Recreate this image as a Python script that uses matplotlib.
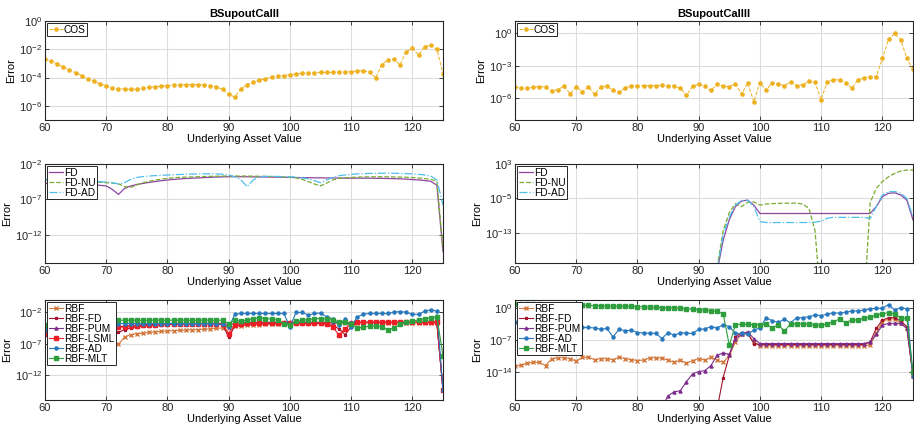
import numpy as np
import matplotlib
matplotlib.use("Agg")
import matplotlib.pyplot as plt
from matplotlib.ticker import NullLocator, FixedLocator

plt.rcParams["font.family"] = ["Liberation Sans", "DejaVu Sans"]
plt.rcParams["mathtext.default"] = "regular"
plt.rcParams["xtick.labelsize"] = 8
plt.rcParams["ytick.labelsize"] = 8

# underlying asset values
asset = list(range(60, 126))
nan = float("nan")

# ---- data (log10 of the error) ----
cos_c1 = [-2.67, -2.86, -3.05, -3.26, -3.47, -3.65, -3.86, -4.07, -4.26, -4.44,
          -4.58, -4.72, -4.79, -4.81, -4.84, -4.81, -4.77, -4.70, -4.65, -4.60,
          -4.56, -4.53, -4.51, -4.51, -4.49, -4.49, -4.51, -4.56, -4.65, -4.84,
          -5.19, -5.37, -4.79, -4.49, -4.33, -4.19, -4.07, -3.98, -3.91, -3.86,
          -3.79, -3.74, -3.70, -3.67, -3.65, -3.63, -3.63, -3.63, -3.60, -3.60,
          -3.58, -3.53, -3.51, -3.60, -4.02, -3.09, -2.74, -2.72, -3.09, -2.16,
          -1.93, -2.40, -1.81, -1.70, -2.00, -3.72]

cos_c2 = [-4.94, -5.06, -5.06, -4.97, -4.91, -4.94, -5.30, -5.18, -4.88, -5.58,
          -4.94, -5.39, -4.91, -5.64, -4.97, -4.88, -5.24, -5.45, -5.00, -4.88,
          -4.82, -4.82, -4.82, -4.82, -4.79, -4.82, -4.88, -5.06, -5.73, -4.88,
          -4.70, -4.88, -5.27, -4.70, -4.85, -4.91, -4.64, -5.61, -4.58, -6.30,
          -4.55, -5.24, -4.58, -4.67, -4.82, -4.48, -4.82, -4.73, -4.42, -4.52,
          -6.12, -4.45, -4.27, -4.30, -4.55, -5.06, -4.30, -4.09, -4.00, -4.00,
          -2.30, -0.55, 0.00, -0.61, -2.30, -3.33]

fd_c1 = [-4.74, -4.75, -4.76, -4.78, -4.80, -4.82, -4.85, -4.90, -4.95, -5.02,
         -5.10, -5.60, -6.30, -5.45, -5.10, -4.90, -4.75, -4.60, -4.48, -4.36,
         -4.26, -4.18, -4.11, -4.05, -4.01, -3.98, -3.92, -3.88, -3.85, -3.82,
         -3.80, -3.80, -3.80, -3.81, -3.82, -3.83, -3.84, -3.85, -3.86, -3.88,
         -3.90, -3.92, -3.93, -3.94, -3.95, -3.96, -3.97, -3.98, -3.99, -4.00,
         -4.00, -4.00, -4.00, -4.01, -4.02, -4.03, -4.05, -4.07, -4.10, -4.14,
         -4.20, -4.26, -4.33, -4.45, -5.00, -14.4]

fdnu_c1 = [-4.26, -4.27, -4.28, -4.29, -4.30, -4.32, -4.36, -4.42, -4.50, -4.57,
           -4.64, -4.70, -4.80, -5.20, -5.30, -4.97, -4.65, -4.45, -4.28, -4.15,
           -4.03, -3.95, -3.89, -3.85, -3.82, -3.80, -3.77, -3.75, -3.73, -3.71,
           -3.70, -3.70, -3.70, -3.71, -3.72, -3.73, -3.75, -3.77, -3.80, -3.84,
           -3.88, -3.95, -4.17, -4.50, -4.83, -5.10, -4.70, -4.25, -4.03, -3.95,
           -3.90, -3.86, -3.83, -3.81, -3.80, -3.80, -3.81, -3.83, -3.85, -3.88,
           -3.92, -3.98, -4.06, -4.17, -4.45, -14.0]

fdad_c1 = [-4.17, -4.18, -4.20, -4.22, -4.24, -4.27, -4.32, -4.38, -4.44, -4.50,
           -4.55, -4.65, -4.83, -4.64, -4.17, -3.90, -3.78, -3.70, -3.64, -3.60,
           -3.56, -3.52, -3.48, -3.45, -3.42, -3.40, -3.39, -3.39, -3.40, -3.45,
           -3.55, -3.80, -4.26, -5.20, -4.26, -3.80, -3.75, -3.75, -3.76, -3.78,
           -3.80, -3.85, -3.95, -4.10, -4.36, -4.64, -4.26, -3.90, -3.65, -3.55,
           -3.46, -3.40, -3.36, -3.33, -3.31, -3.30, -3.30, -3.31, -3.33, -3.36,
           -3.40, -3.46, -3.55, -3.70, -4.26, -7.80]

fd_c2 = [nan] * 33 + [
    -22.0, -14.7, -9.9, -6.9, -5.6, -5.4, -6.55,
    -8.5, -8.5, -8.5, -8.5, -8.5, -8.5, -8.5, -8.5, -8.5, -8.5,
    -8.5, -8.5, -8.5, -8.5, -8.5, -8.5, -8.5, -8.5, -8.5, -6.9,
    -4.6, -3.8, -3.7, -4.2, -5.4, -10.0]

fdnu_c2 = [nan] * 33 + [
    -21.0, -12.5, -8.3, -6.2, -6.9, -5.9, -5.8,
    -6.55, -6.3, -6.2, -6.16, -6.1, -6.1, -6.1, -6.3, -7.3, -12.5,
    -30.0, nan, nan, nan, nan, nan, nan, -30.0, -6.0, -2.66,
    -1.1, 0.05, 0.8, 1.37, 1.6, 1.6]

fdad_c2 = [nan] * 33 + [
    -21.5, -13.5, -9.3, -6.55, -5.5, -5.4, -6.9,
    -10.4, -10.6, -10.6, -10.6, -10.6, -10.6, -10.6, -10.6, -10.6, -10.5,
    -10.3, -9.6, -9.4, -9.4, -9.4, -9.4, -9.4, -9.4, -9.65, -6.9,
    -4.2, -3.45, -3.4, -3.8, -5.0, -9.3]

rbf_c1 = [-5.20, -5.20, -5.15, -5.15, -5.10, -5.10, -5.10, -5.05, -5.05, -5.00,
          -5.50, -6.20, -7.10, -5.90, -5.55, -5.40, -5.30, -5.20, -5.10, -5.03,
          -4.96, -4.91, -4.86, -4.82, -4.78, -4.74, -4.68, -4.62, -4.55, -4.48,
          -4.42, -4.20, -4.10, -4.05, -4.00, -3.95, -3.90, -3.85, -3.80, -3.75,
          -3.70, -3.66, -3.66, -3.66, -3.66, -3.66, -3.70, -3.72, -3.75, -3.70,
          -3.65, -3.65, -3.65, -3.65, -3.65, -3.65, -3.65, -3.65, -3.65, -3.65,
          -3.65, -3.65, -3.65, -3.65, -3.65, -14.4]

rbffd_c1 = [-4.90, -4.90, -4.90, -4.90, -4.90, -4.90, -4.90, -4.90, -4.90, -4.90,
            -4.85, -4.70, -5.20, -4.74, -4.50, -4.30, -4.20, -4.12, -4.05, -4.00,
            -3.94, -3.90, -3.87, -3.83, -3.80, -3.77, -3.77, -3.77, -3.80, -3.85,
            -6.00, -4.15, -3.90, -3.85, -3.80, -3.80, -3.80, -3.80, -3.80, -3.80,
            -3.80, -3.80, -3.80, -3.80, -3.80, -3.80, -3.85, -4.10, -4.60, -5.55,
            -4.30, -3.60, -3.55, -3.55, -3.55, -3.55, -3.55, -3.55, -3.55, -3.55,
            -3.55, -3.55, -3.55, -3.55, -3.55, -14.4]

rbfpum_c1 = [-4.74, -4.65, -4.62, -4.60, -4.60, -4.60, -4.60, -4.60, -4.60, -4.60,
             -4.60, -4.45, -4.30, -4.20, -4.10, -4.05, -3.98, -3.92, -3.87, -3.83,
             -3.80, -3.78, -3.77, -3.76, -3.75, -3.75, -3.75, -3.75, -3.75, -3.75,
             -4.10, -3.70, -3.60, -3.60, -3.60, -3.60, -3.60, -3.60, -3.60, -3.60,
             -3.60, -3.60, -3.60, -3.60, -3.60, -3.60, -3.60, -3.60, -3.60, -3.60,
             -3.60, -3.60, -3.60, -3.60, -3.60, -3.60, -3.60, -3.60, -3.60, -3.60,
             -3.60, -3.60, -3.60, -3.60, -3.60, -14.4]

rbflsml_c1 = [-5.40, -5.00, -5.00, -5.00, -5.00, -5.00, -5.00, -5.00, -5.00, -5.00,
              -4.70, -4.55, -4.40, -4.30, -4.20, -4.10, -4.05, -4.00, -3.95, -3.90,
              -3.87, -3.80, -3.80, -3.80, -3.80, -3.80, -3.80, -3.80, -3.80, -3.90,
              -5.40, -4.00, -3.85, -3.75, -3.75, -3.75, -3.75, -3.75, -3.75, -3.75,
              -3.75, -3.75, -3.75, -3.75, -3.75, -3.75, -3.85, -4.30, -5.60, -4.60,
              -3.80, -3.60, -3.60, -3.60, -3.60, -3.60, -3.60, -3.60, -3.60, -3.60,
              -3.60, -3.60, -3.60, -3.60, -3.60, -14.4]

rbfad_c1 = [-4.74, -3.77, -3.77, -3.77, -3.77, -3.77, -3.77, -3.77, -3.77, -3.77,
            -3.77, -3.77, -3.77, -3.77, -3.77, -3.77, -3.77, -3.77, -3.77, -3.77,
            -3.77, -3.77, -3.77, -3.77, -3.77, -3.77, -3.77, -3.77, -3.90, -3.90,
            -4.40, -2.30, -2.16, -2.16, -2.16, -2.16, -2.16, -2.16, -2.16, -2.16,
            -4.31, -2.00, -2.00, -2.43, -2.16, -2.10, -2.70, -3.00, -3.94, -3.08,
            -4.31, -2.70, -2.27, -2.16, -2.16, -2.16, -2.16, -1.95, -1.85, -1.97,
            -2.30, -2.30, -1.80, -1.57, -1.80, -14.4]

rbfmlt_c1 = [-4.04, -3.30, -3.30, -3.30, -3.30, -3.30, -3.30, -3.30, -3.30, -3.30,
             -3.24, -3.24, -3.24, -3.24, -3.24, -3.24, -3.24, -3.24, -3.24, -3.24,
             -3.24, -3.24, -3.24, -3.24, -3.24, -3.24, -3.24, -3.24, -3.24, -3.24,
             -3.77, -3.24, -3.40, -3.20, -3.00, -2.86, -2.97, -3.07, -3.20, -3.80,
             -4.00, -3.40, -3.25, -3.15, -3.00, -2.97, -3.05, -3.25, -3.50, -3.60,
             -3.80, -4.50, -4.35, -4.20, -4.15, -4.25, -4.74, -4.50, -3.90, -3.60,
             -3.40, -3.20, -2.97, -2.86, -2.70, -8.90]

rbf_c2 = [-12.7, -12.4, -12.0, -11.8, -11.8, -12.5, -11.0, -10.8, -10.8, -11.0,
          -11.5, -10.7, -10.7, -11.2, -11.0, -11.0, -11.2, -10.7, -11.0, -11.2,
          -11.4, -11.3, -10.8, -10.8, -10.9, -11.3, -11.8, -11.3, -12.0, -11.4,
          -11.0, -11.3, -10.7, -11.3, -11.8, -10.3, -7.35, -5.7, -5.5, -7.35,
          -8.2, -8.2, -8.2, -8.2, -8.2, -8.2, -8.2, -8.2, -8.2, -8.2,
          -8.2, -8.2, -8.2, -8.2, -8.2, -8.2, -8.2, -8.2, -8.0, -5.5,
          -2.9, -2.35, -2.35, -3.3, -4.4, -14.7]

rbffd_c2 = [nan] * 33 + [
    -22.0, -15.1, -10.3, -6.25, -5.3, -5.5, -7.7,
    -7.9, -7.9, -7.9, -7.9, -7.9, -7.9, -7.9, -7.9, -7.9, -7.9,
    -7.9, -7.9, -7.9, -7.9, -7.9, -7.9, -7.9, -7.9, -7.35, -4.4,
    -2.6, -2.06, -2.06, -2.8, -4.0, -14.7]

rbfpum_c2 = [nan] * 24 + [
    -21.5, -19.1, -18.2, -18.0, -16.0, -14.3,
    -13.8, -13.6, -12.5, -10.3, -9.7, -10.1, -6.6, -5.7, -5.15, -6.6,
    -7.7, -7.7, -7.7, -7.7, -7.7, -7.7, -7.7, -7.7, -7.7, -7.7,
    -7.7, -7.7, -7.7, -7.7, -7.7, -7.7, -7.7, -7.7, -7.35, -5.7,
    -3.7, -3.3, -3.3, -3.3, -4.4, -14.7]

rbfad_c2 = [-3.00, -3.30, -3.50, -3.50, -3.50, -3.50, -3.50, -3.50, -3.55, -3.60,
            -3.65, -4.20, -4.20, -4.30, -4.60, -4.40, -6.25, -4.60, -4.90, -4.80,
            -5.30, -5.40, -5.45, -5.50, -6.60, -5.30, -5.90, -5.35, -5.40, -5.50,
            -4.60, -4.50, -4.00, -4.30, -3.60, -4.00, -5.50, -5.50, -5.60, -4.80,
            -4.30, -2.10, -2.70, -3.10, -2.40, -3.20, -2.06, -2.06, -1.84, -1.47,
            -1.60, -1.30, -0.96, -1.10, -0.88, -0.60, -0.60, -0.37, -0.15, 0.00,
            0.00, 0.80, -0.37, 0.15, -0.15, -14.7]

rbfmlt_c2 = [0.95, 0.92, 0.90, 0.87, 0.84, 0.81, 0.78, 0.75, 0.72, 0.70,
             0.67, 0.64, 0.61, 0.58, 0.55, 0.52, 0.49, 0.45, 0.42, 0.38,
             0.35, 0.30, 0.25, 0.20, 0.15, 0.10, 0.03, -0.05, -0.13, -0.21,
             -0.30, -0.40, -0.55, -0.70, -1.20, -8.10, -3.60, -3.50, -3.50, -3.55,
             -3.60, -3.50, -4.30, -3.60, -5.00, -3.40, -3.40, -3.40, -3.50, -3.70,
             -3.70, -3.40, -2.90, -2.40, -3.20, -2.50, -2.60, -2.10, -2.00, -1.47,
             -1.20, -1.00, -1.20, -2.20, -2.20, -14.0]

# ---- styles ----
_c = {
    "COS": "#EDB120",
    "FD": "#8E44A0",
    "FD-NU": "#77AC30",
    "FD-AD": "#4DBEEE",
    "RBF": "#D2783C",
    "RBF-FD": "#A2142F",
    "RBF-PUM": "#7E2F8E",
    "RBF-LSML": "#EE1C25",
    "RBF-AD": "#2878BD",
    "RBF-MLT": "#2E9E3E",
}


def err(v):
    return 10.0 ** np.array(v, dtype=float)


def style_axes(ax, ylim, yticks):
    ax.set_yscale("log")
    ax.set_xlim(60, 125)
    ax.set_ylim(ylim)
    ax.set_xticks([60, 70, 80, 90, 100, 110, 120])
    ax.yaxis.set_major_locator(FixedLocator(yticks))
    ax.yaxis.set_minor_locator(NullLocator())
    ax.grid(True, which="major", color="#dcdcdc", linewidth=0.8)
    ax.set_axisbelow(True)
    ax.tick_params(direction="in", top=True, right=True, length=3,
                   width=0.6, colors="#262626", pad=2)
    for s in ax.spines.values():
        s.set_color("#262626")
        s.set_linewidth(0.8)
    ax.set_xlabel("Underlying Asset Value", fontsize=8, labelpad=1)
    ax.set_ylabel("Error", fontsize=8, labelpad=2)


def add_legend(ax):
    leg = ax.legend(loc="upper left", fontsize=7.3, frameon=True, fancybox=False,
                    framealpha=1, edgecolor="#262626", borderpad=0.15,
                    labelspacing=0.0, handlelength=1.4, handletextpad=0.1,
                    borderaxespad=0.2)
    leg.get_frame().set_linewidth(0.7)


fig = plt.figure(figsize=(9.14, 4.30), dpi=100)

xl, xr, w = 45 / 914, 515 / 914, 398 / 914
rows = [(0.7209, 0.2302), (0.3884, 0.2302), (0.0698, 0.2326)]

axes = [[fig.add_axes([xl, b, w, h]), fig.add_axes([xr, b, w, h])] for b, h in rows]

# row 1: COS
a1, a2 = axes[0]
a1.plot(asset, err(cos_c1), "--", marker="o", ms=2.3, lw=0.7, color=_c["COS"], label="COS")
a2.plot(asset, err(cos_c2), "--", marker="o", ms=2.3, lw=0.7, color=_c["COS"], label="COS")
style_axes(a1, (1e-7, 1e0), [1e-6, 1e-4, 1e-2, 1e0])
style_axes(a2, (1e-8, 10 ** 1.15), [1e-6, 1e-3, 1e0])
a1.set_title("BSupoutCallI", fontsize=8, fontweight="bold", pad=3)
a2.set_title("BSupoutCallII", fontsize=8, fontweight="bold", pad=3)

# row 2: FD variants
b1, b2 = axes[1]
for ax, fd, nu, ad in [(b1, fd_c1, fdnu_c1, fdad_c1), (b2, fd_c2, fdnu_c2, fdad_c2)]:
    ax.plot(asset, err(fd), "-", lw=0.9, color=_c["FD"], label="FD")
    ax.plot(asset, err(nu), "--", lw=0.9, color=_c["FD-NU"], label="FD-NU")
    ax.plot(asset, err(ad), "-.", lw=0.9, color=_c["FD-AD"], label="FD-AD")
style_axes(b1, (1e-16, 1e-2), [1e-12, 1e-7, 1e-2])
style_axes(b2, (1e-20, 1e3), [1e-13, 1e-5, 1e3])

# row 3: RBF variants
c1, c2 = axes[2]
mk = dict(lw=0.8, ms=2.2)
c1.plot(asset, err(rbf_c1), "-", marker="x", color=_c["RBF"], label="RBF", **mk)
c1.plot(asset, err(rbffd_c1), "-", marker="*", color=_c["RBF-FD"], label="RBF-FD", **mk)
c1.plot(asset, err(rbfpum_c1), "-", marker="^", color=_c["RBF-PUM"], label="RBF-PUM", **mk)
c1.plot(asset, err(rbflsml_c1), "-", marker="s", color=_c["RBF-LSML"], label="RBF-LSML", **mk)
c1.plot(asset, err(rbfad_c1), "-", marker="o", color=_c["RBF-AD"], label="RBF-AD", **mk)
c1.plot(asset, err(rbfmlt_c1), "-", marker="s", color=_c["RBF-MLT"], label="RBF-MLT", **mk)

c2.plot(asset, err(rbf_c2), "-", marker="x", color=_c["RBF"], label="RBF", **mk)
c2.plot(asset, err(rbffd_c2), "-", marker="*", color=_c["RBF-FD"], label="RBF-FD", **mk)
c2.plot(asset, err(rbfpum_c2), "-", marker="^", color=_c["RBF-PUM"], label="RBF-PUM", **mk)
c2.plot(asset, err(rbfad_c2), "-", marker="o", color=_c["RBF-AD"], label="RBF-AD", **mk)
c2.plot(asset, err(rbfmlt_c2), "-", marker="s", color=_c["RBF-MLT"], label="RBF-MLT", **mk)
style_axes(c1, (1e-16, 1e0), [1e-12, 1e-7, 1e-2])
style_axes(c2, (1e-20, 10 ** 1.8), [1e-14, 1e-7, 1e0])

for row in axes:
    for ax in row:
        add_legend(ax)

plt.savefig("out.png", dpi=100)
